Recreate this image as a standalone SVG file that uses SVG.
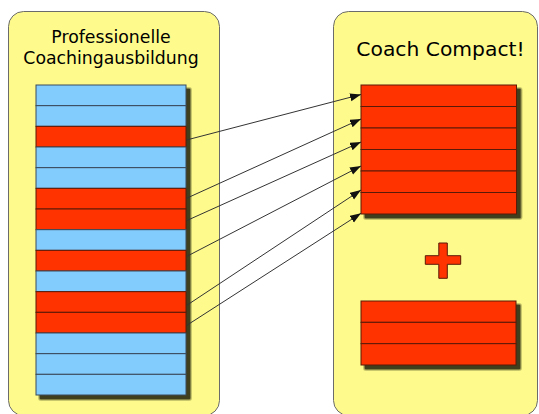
<svg xmlns="http://www.w3.org/2000/svg" width="539" height="414" viewBox="0 0 539 414">
  <defs>
    <style>
      .panel { fill: #FEFB8C; stroke: #6b6b6b; stroke-width: 1; }
      .blue { fill: #82CBFD; stroke: #3a4a5a; stroke-width: 1; }
      .red { fill: #FF3300; stroke: #5a1a08; stroke-width: 1; }
      .title { font-family: "DejaVu Sans", "Liberation Sans", sans-serif; fill: #000; text-anchor: middle; }
      .conn { stroke: #333; stroke-width: 1; fill: none; marker-end: url(#arrow); }
      .sh1 { fill: #2a2a10; opacity: 0.25; }
      .sh2 { fill: #2a2a10; opacity: 0.45; }
      .sh3 { fill: #2a2a10; opacity: 0.75; }
    </style>
    <marker id="arrow" markerUnits="userSpaceOnUse" markerWidth="12" markerHeight="10" refX="11" refY="4" orient="auto">
      <path d="M0,0 L11,4 L0,8 Z" fill="#111"/>
    </marker>
  </defs>

  <g id="panel-left">
    <rect class="panel" x="8.5" y="11.5" width="211" height="404" rx="15" ry="15"/>
    <text class="title" x="111" y="42.5" font-size="17.3">Professionelle</text>
    <text class="title" x="111" y="63.5" font-size="17.3">Coachingausbildung</text>
  </g>

  <g id="panel-right">
    <rect class="panel" x="333.5" y="11.5" width="204" height="404" rx="15" ry="15"/>
    <text class="title" x="440.5" y="56" font-size="20.3">Coach Compact!</text>
  </g>

  <g id="stack-left">
    <rect class="sh1" x="38" y="87" width="154" height="314" rx="3"/>
    <rect class="sh2" x="39" y="88" width="152" height="312" rx="2"/>
    <rect class="sh3" x="40" y="89" width="150" height="310"/>
    <rect class="blue" x="36" y="85" width="150" height="20.67"/>
    <rect class="blue" x="36" y="105.67" width="150" height="20.67"/>
    <rect class="red" x="36" y="126.33" width="150" height="20.67"/>
    <rect class="blue" x="36" y="147" width="150" height="20.67"/>
    <rect class="blue" x="36" y="167.67" width="150" height="20.67"/>
    <rect class="red" x="36" y="188.33" width="150" height="20.67"/>
    <rect class="red" x="36" y="209" width="150" height="20.67"/>
    <rect class="blue" x="36" y="229.67" width="150" height="20.67"/>
    <rect class="red" x="36" y="250.33" width="150" height="20.67"/>
    <rect class="blue" x="36" y="271" width="150" height="20.67"/>
    <rect class="red" x="36" y="291.67" width="150" height="20.67"/>
    <rect class="red" x="36" y="312.33" width="150" height="20.67"/>
    <rect class="blue" x="36" y="333" width="150" height="20.67"/>
    <rect class="blue" x="36" y="353.67" width="150" height="20.67"/>
    <rect class="blue" x="36" y="374.33" width="150" height="20.67"/>
  </g>

  <g id="stack-right">
    <rect class="sh1" x="363" y="87" width="159.5" height="133" rx="3"/>
    <rect class="sh2" x="364" y="88" width="157.5" height="131" rx="2"/>
    <rect class="sh3" x="365" y="89" width="155.5" height="129"/>
    <rect class="red" x="361" y="85" width="155.5" height="21.5"/>
    <rect class="red" x="361" y="106.5" width="155.5" height="21.5"/>
    <rect class="red" x="361" y="128" width="155.5" height="21.5"/>
    <rect class="red" x="361" y="149.5" width="155.5" height="21.5"/>
    <rect class="red" x="361" y="171" width="155.5" height="21.5"/>
    <rect class="red" x="361" y="192.5" width="155.5" height="21.5"/>
  </g>

  <g id="plus">
    <path class="red" d="M438.8,243 H447.3 V255.7 H460.7 V264.3 H447.3 V278.3 H438.8 V264.3 H425.3 V255.7 H438.8 Z" stroke="#8a3a10"/>
  </g>

  <g id="stack-bottom">
    <rect class="sh1" x="363" y="303" width="159" height="68" rx="3"/>
    <rect class="sh2" x="364" y="304" width="157" height="66" rx="2"/>
    <rect class="sh3" x="365" y="305" width="155" height="64"/>
    <rect class="red" x="361" y="301" width="155" height="21.33"/>
    <rect class="red" x="361" y="322.33" width="155" height="21.33"/>
    <rect class="red" x="361" y="343.67" width="155" height="21.33"/>
  </g>

  <g id="connectors">
    <line class="conn" x1="186.5" y1="140" x2="361" y2="94.5"/>
    <line class="conn" x1="186.5" y1="198.3" x2="361" y2="119"/>
    <line class="conn" x1="186.5" y1="220.7" x2="361" y2="142"/>
    <line class="conn" x1="186.5" y1="256.5" x2="361" y2="166"/>
    <line class="conn" x1="186.5" y1="305.5" x2="361" y2="190"/>
    <line class="conn" x1="186.5" y1="325.5" x2="361" y2="213.3"/>
  </g>
</svg>
